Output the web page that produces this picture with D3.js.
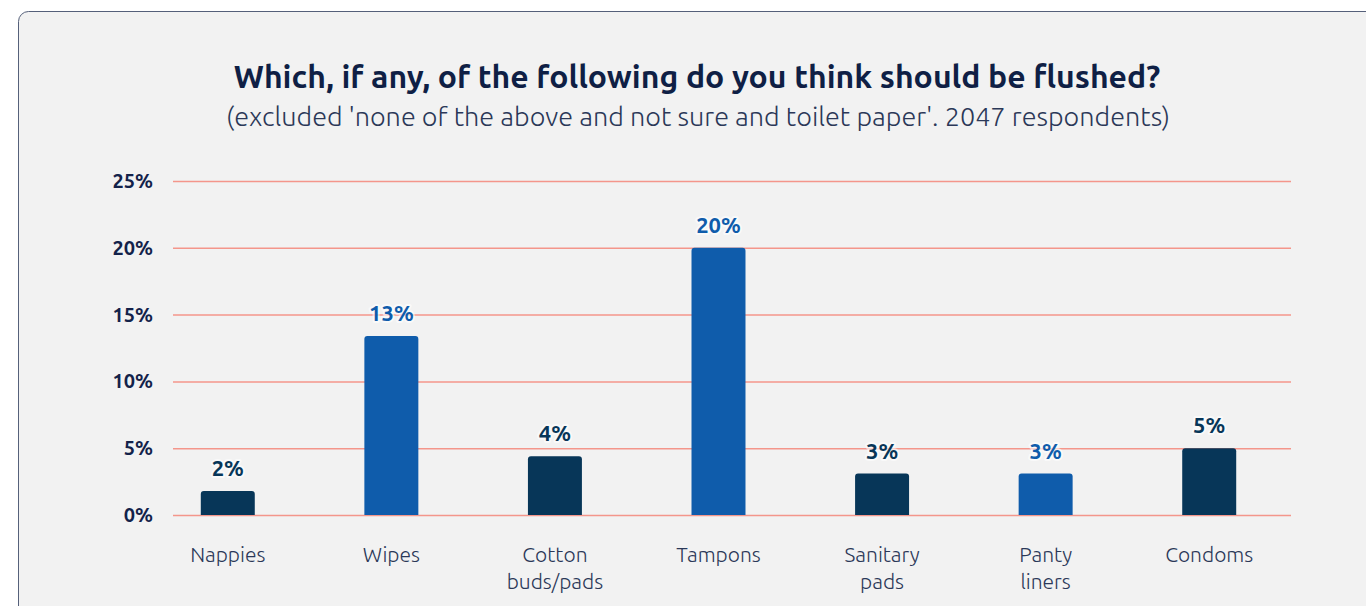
<!DOCTYPE html>
<html>
<head>
<meta charset="utf-8">
<script src="https://cdn.jsdelivr.net/npm/d3@7"></script>
<style>
  html, body { margin: 0; padding: 0; background: #ffffff; }
  #chart { width: 1366px; height: 606px; }
  text { font-family: Ubuntu, "Noto Sans", sans-serif; }
</style>
</head>
<body>
<div id="chart"></div>
<script>
const categories = [["Nappies"], ["Wipes"], ["Cotton", "buds/pads"], ["Tampons"], ["Sanitary", "pads"], ["Panty", "liners"], ["Condoms"]];
const values = [1.8, 13.4, 4.4, 20.0, 3.1, 3.1, 5.0];
const valueLabels = ["2%", "13%", "4%", "20%", "3%", "3%", "5%"];
const barColors = ["#073658", "#0f5cab", "#073658", "#0f5cab", "#073658", "#0f5cab", "#073658"];
const yTicks = [0, 5, 10, 15, 20, 25];

const width = 1366, height = 606;
const svg = d3.select("#chart").append("svg")
  .attr("width", width)
  .attr("height", height);

// card
svg.append("rect")
  .attr("x", 18.5).attr("y", 11.5)
  .attr("width", 1400).attr("height", 700)
  .attr("rx", 10)
  .attr("fill", "#f2f2f2")
  .attr("stroke", "#55607a")
  .attr("stroke-width", 1);

// titles
svg.append("text")
  .attr("x", 697).attr("y", 88)
  .attr("text-anchor", "middle")
  .attr("font-size", "32px")
  .attr("font-weight", 700)
  .attr("fill", "#0f1f45")
  .text("Which, if any, of the following do you think should be flushed?");

svg.append("text")
  .attr("x", 698).attr("y", 126)
  .attr("text-anchor", "middle")
  .attr("font-size", "27px")
  .attr("font-weight", 300)
  .attr("fill", "#2b3858")
  .text("(excluded 'none of the above and not sure and toilet paper'. 2047 respondents)");

// scales
const x = d3.scaleBand()
  .domain(d3.range(categories.length))
  .range([146, 1291])
  .paddingInner(0.67)
  .paddingOuter(0.335);

const y = d3.scaleLinear().domain([0, 25]).range([515, 181]);

// grid
const grid = svg.append("g")
  .attr("transform", "translate(173,0)")
  .call(d3.axisLeft(y).tickValues(yTicks).tickSize(-(1291 - 173)).tickFormat(""))
  .call(g => g.select(".domain").remove());
grid.selectAll(".tick line").attr("stroke", "#f4968b").attr("stroke-width", 1.5);

// y labels
const yAxis = svg.append("g")
  .attr("transform", "translate(153,0)")
  .call(d3.axisLeft(y).tickValues(yTicks).tickSize(0).tickFormat(d => d + "%"))
  .call(g => g.select(".domain").remove());
yAxis.selectAll(".tick text")
  .attr("x", 0)
  .attr("font-size", "20px")
  .attr("font-weight", 700)
  .attr("fill", "#13224a")
  .style("font-family", "Ubuntu, 'Noto Sans', sans-serif");

// bars
svg.append("g").selectAll("path")
  .data(values)
  .join("path")
  .attr("d", (d, i) => {
    const x0 = x(i), w = x.bandwidth(), y0 = y(d), h = y(0) - y(d), r = 3;
    return `M${x0},${y0 + h} V${y0 + r} Q${x0},${y0} ${x0 + r},${y0} H${x0 + w - r} Q${x0 + w},${y0} ${x0 + w},${y0 + r} V${y0 + h} Z`;
  })
  .attr("fill", (d, i) => barColors[i]);

// value labels with white halo
const labels = svg.append("g").selectAll("g")
  .data(values)
  .join("g")
  .attr("transform", (d, i) => `translate(${x(i) + x.bandwidth() / 2},${y(d) - 15})`);
labels.append("text")
  .attr("text-anchor", "middle")
  .attr("font-size", "22px")
  .attr("font-weight", 700)
  .attr("stroke", "#ffffff")
  .attr("stroke-width", 4)
  .attr("stroke-opacity", 0.6)
  .attr("stroke-linejoin", "round")
  .attr("fill", "none")
  .text((d, i) => valueLabels[i]);
labels.append("text")
  .attr("text-anchor", "middle")
  .attr("font-size", "22px")
  .attr("font-weight", 700)
  .attr("fill", (d, i) => barColors[i])
  .text((d, i) => valueLabels[i]);

// x labels
const xl = svg.append("g").selectAll("text")
  .data(categories)
  .join("text")
  .attr("x", (d, i) => x(i) + x.bandwidth() / 2)
  .attr("y", 562)
  .attr("text-anchor", "middle")
  .attr("font-size", "21px")
  .attr("font-weight", 300)
  .attr("fill", "#2b3858");
xl.selectAll("tspan")
  .data(d => d)
  .join("tspan")
  .attr("x", function () { return this.parentNode.getAttribute("x"); })
  .attr("dy", (d, i) => i === 0 ? 0 : 27)
  .text(d => d);
</script>
</body>
</html>
